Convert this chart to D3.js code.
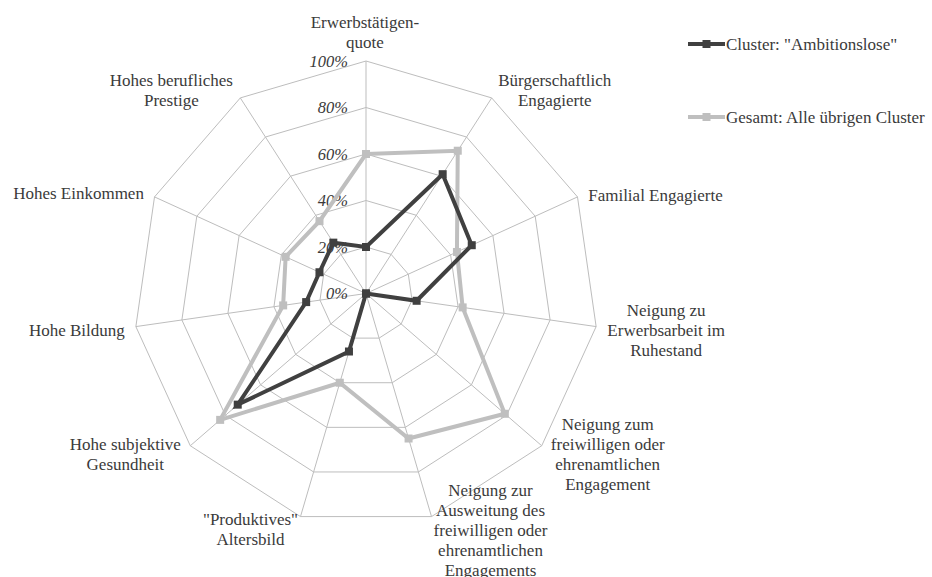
<html>
<head>
<meta charset="utf-8">
<script src="https://d3js.org/d3.v7.min.js"></script>
<style>
  body { margin: 0; background: #fff; }
  svg text, svg tspan { font-family: 'Liberation Serif', 'Times New Roman', serif; }
</style>
</head>
<body>
<svg id="chart" width="932" height="577"></svg>
<script>
// axis labels (one entry per spoke, lines split by \n)
var axes = [
  "Erwerbstätigen-\nquote",
  "Bürgerschaftlich\nEngagierte",
  "Familial Engagierte",
  "Neigung zu\nErwerbsarbeit im\nRuhestand",
  "Neigung zum\nfreiwilligen oder\nehrenamtlichen\nEngagement",
  "Neigung zur\nAusweitung des\nfreiwilligen oder\nehrenamtlichen\nEngagements",
  "\"Produktives\"\nAltersbild",
  "Hohe subjektive\nGesundheit",
  "Hohe Bildung",
  "Hohes Einkommen",
  "Hohes berufliches\nPrestige"
];
var ambitionslose = [20, 61, 50, 22, 0, 0, 26, 73, 26, 22, 26];
var gesamt = [60, 73, 43, 42, 79, 65, 40, 83, 36, 38, 37];
var ticks = [0, 20, 40, 60, 80, 100];
var seriesNames = ["Cluster: \"Ambitionslose\"", "Gesamt: Alle übrigen Cluster"];

// label block offsets from the outer vertex (layout only)
var labelShift = [[-1,-29],[63,-8],[78,-2],[70,3],[66,8],[59,13],[-50,12],[-65,8],[-59,3],[-76,-4],[-69,-8]];

var cx = 366, cy = 293.5, R = 232.5;
var txt = '#3a3a3a';
var svg = d3.select('#chart');
var g = svg.append('g').attr('transform', 'translate(' + cx + ',' + cy + ')');

var r = d3.scaleLinear().domain([0, 100]).range([0, R]);
var angle = d3.scalePoint().domain(d3.range(axes.length)).range([0, 2 * Math.PI * (axes.length - 1) / axes.length]);

function pt(i, v) {
  var a = angle(i);
  return [r(v) * Math.sin(a), -r(v) * Math.cos(a)];
}

// grid rings
ticks.slice(1).forEach(function(t) {
  g.append('path')
    .attr('d', d3.line()(axes.map(function(d, i) { return pt(i, t); })) + 'Z')
    .attr('fill', 'none')
    .attr('stroke', '#bdbdbd')
    .attr('stroke-width', 1);
});
// spokes
axes.forEach(function(d, i) {
  var p = pt(i, 100);
  g.append('line').attr('x1', 0).attr('y1', 0).attr('x2', p[0]).attr('y2', p[1])
    .attr('stroke', '#bdbdbd').attr('stroke-width', 1);
});

// tick labels
g.selectAll('.tick').data(ticks).enter().append('text')
  .attr('class', 'tick')
  .attr('x', -18)
  .attr('y', function(d) { return -r(d); })
  .attr('dy', '0.35em')
  .attr('text-anchor', 'end')
  .attr('fill', txt)
  .style('font-style', 'italic')
  .style('font-size', '16.5px')
  .text(function(d) { return d + '%'; });

// axis labels
axes.forEach(function(lab, i) {
  var p = pt(i, 100);
  var lines = lab.split('\n');
  var x = p[0] + labelShift[i][0], y = p[1] + labelShift[i][1];
  var t = g.append('text')
    .attr('text-anchor', 'middle')
    .attr('fill', txt)
    .style('font-size', '17px');
  lines.forEach(function(l, k) {
    t.append('tspan')
      .attr('x', x)
      .attr('y', y + (k - (lines.length - 1) / 2) * 20)
      .attr('dy', '0.35em')
      .text(l);
  });
});

// series
var series = [
  {values: gesamt, color: '#bfbfbf', width: 4, size: 8},
  {values: ambitionslose, color: '#404040', width: 4, size: 8}
];
series.forEach(function(s) {
  var pts = s.values.map(function(v, i) { return pt(i, v); });
  g.append('path')
    .attr('d', d3.line()(pts) + 'Z')
    .attr('fill', 'none')
    .attr('stroke', s.color)
    .attr('stroke-width', s.width)
    .attr('stroke-linejoin', 'miter');
  g.selectAll(null).data(pts).enter().append('rect')
    .attr('x', function(d) { return d[0] - s.size / 2; })
    .attr('y', function(d) { return d[1] - s.size / 2; })
    .attr('width', s.size)
    .attr('height', s.size)
    .attr('fill', s.color);
});

// legend
var legend = svg.append('g');
[{name: seriesNames[0], color: '#404040', y: 44, size: 8}, {name: seriesNames[1], color: '#bfbfbf', y: 117, size: 8}].forEach(function(d) {
  legend.append('line').attr('x1', 688).attr('x2', 725).attr('y1', d.y).attr('y2', d.y)
    .attr('stroke', d.color).attr('stroke-width', 4);
  legend.append('rect').attr('x', 706.5 - d.size / 2).attr('y', d.y - d.size / 2)
    .attr('width', d.size).attr('height', d.size).attr('fill', d.color);
  legend.append('text').attr('x', 726).attr('y', d.y).attr('dy', '0.35em')
    .attr('fill', txt)
    .style('font-size', '17px').text(d.name);
});
</script>
</body>
</html>
